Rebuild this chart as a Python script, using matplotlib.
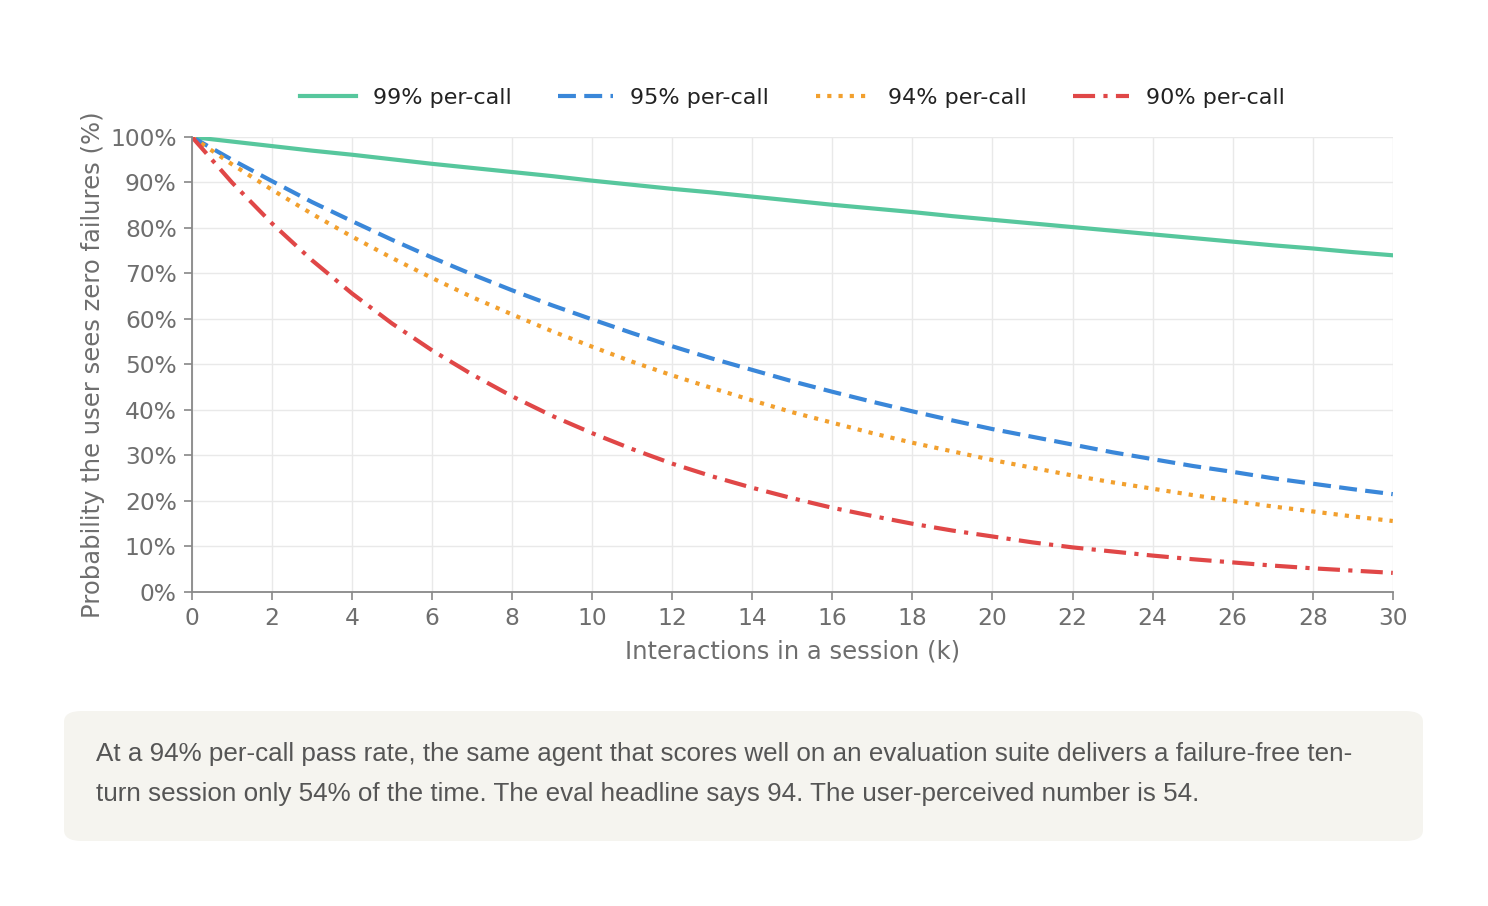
import matplotlib
matplotlib.use('Agg')
import matplotlib.pyplot as plt
from matplotlib.patches import FancyBboxPatch

# interactions k = 0..30
k = list(range(31))

# probability of zero failures (%)
p99 = [100, 99.0, 98.0, 97.0, 96.1, 95.1, 94.1, 93.2, 92.3, 91.4, 90.4,
       89.5, 88.6, 87.8, 86.9, 86.0, 85.1, 84.3, 83.5, 82.6, 81.8,
       81.0, 80.2, 79.4, 78.6, 77.8, 77.0, 76.2, 75.5, 74.7, 74.0]
p95 = [100, 95.0, 90.3, 85.7, 81.5, 77.4, 73.5, 69.8, 66.3, 63.0, 59.9,
       56.9, 54.0, 51.3, 48.8, 46.3, 44.0, 41.8, 39.7, 37.7, 35.8,
       34.1, 32.4, 30.7, 29.2, 27.7, 26.4, 25.0, 23.8, 22.6, 21.5]
p94 = [100, 94.0, 88.4, 83.1, 78.1, 73.4, 69.0, 64.8, 61.0, 57.3, 53.9,
       50.6, 47.6, 44.8, 42.1, 39.5, 37.2, 34.9, 32.8, 30.9, 29.0,
       27.3, 25.6, 24.1, 22.7, 21.3, 20.0, 18.8, 17.7, 16.6, 15.6]
p90 = [100, 90.0, 81.0, 72.9, 65.6, 59.0, 53.1, 47.8, 43.0, 38.7, 34.9,
       31.4, 28.2, 25.4, 22.9, 20.6, 18.5, 16.7, 15.0, 13.5, 12.2,
       10.9, 9.8, 8.9, 8.0, 7.2, 6.5, 5.8, 5.2, 4.7, 4.2]

labels = ['99% per-call', '95% per-call', '94% per-call', '90% per-call']
xticks = list(range(0, 31, 2))
yticks = list(range(0, 101, 10))

caption = ("At a 94% per-call pass rate, the same agent that scores well on an evaluation suite delivers a failure-free ten-\n"
           "turn session only 54% of the time. The eval headline says 94. The user-perceived number is 54.")

grey = '#6e6e6e'
fig = plt.figure(figsize=(14.88, 9.06), dpi=100)
ax = fig.add_axes([0.129, 0.3466, 0.807, 0.5022])

lw = 3.0
ax.plot(k, p99, color='#57c79d', lw=lw, label=labels[0])
ax.plot(k, p95, color='#3a87d9', lw=lw, dashes=(4.3, 2), label=labels[1])
ax.plot(k, p94, color='#f2a02e', lw=lw, dashes=(1, 1.7), label=labels[2])
ax.plot(k, p90, color='#e04747', lw=lw, dashes=(5.3, 2, 1, 2), label=labels[3])

ax.set_xlim(0, 30)
ax.set_ylim(0, 100)
ax.set_xticks(xticks)
ax.set_yticks(yticks)
ax.set_yticklabels([f'{v}%' for v in yticks])
ax.tick_params(labelsize=16.8, colors=grey, length=6, width=1.2, pad=5)
ax.tick_params(axis='x', labelcolor=grey, color='#888888')
ax.tick_params(axis='y', labelcolor=grey, color='#888888')
ax.grid(True, color='#e9e9e9', lw=1)
ax.set_axisbelow(True)
for s in ['top', 'right']:
    ax.spines[s].set_visible(False)
for s in ['left', 'bottom']:
    ax.spines[s].set_color('#888888')
    ax.spines[s].set_linewidth(1.3)

ax.set_xlabel('Interactions in a session (k)', fontsize=17.5, color=grey, labelpad=7)
ax.set_ylabel('Probability the user sees zero failures (%)', fontsize=17.5, color=grey, labelpad=4)

leg = ax.legend(loc='lower center', bbox_to_anchor=(0.5, 1.02), ncol=4, frameon=False,
                fontsize=16, handlelength=2.5, columnspacing=2.1, handletextpad=0.75)
for t in leg.get_texts():
    t.set_color('#222222')

# caption box
box = FancyBboxPatch((64 / 1488, 1 - 841 / 906), (1423 - 64) / 1488, (841 - 711) / 906,
                     boxstyle='round,pad=0,rounding_size=0.012', transform=fig.transFigure,
                     facecolor='#f5f4ef', edgecolor='none')
fig.patches.append(box)
fig.text(96 / 1488, 1 - 774 / 906, caption, fontsize=18.7, color='#555555',
         family='Liberation Sans', ha='left', va='center', linespacing=1.88)

plt.savefig('out.png', dpi=100)
